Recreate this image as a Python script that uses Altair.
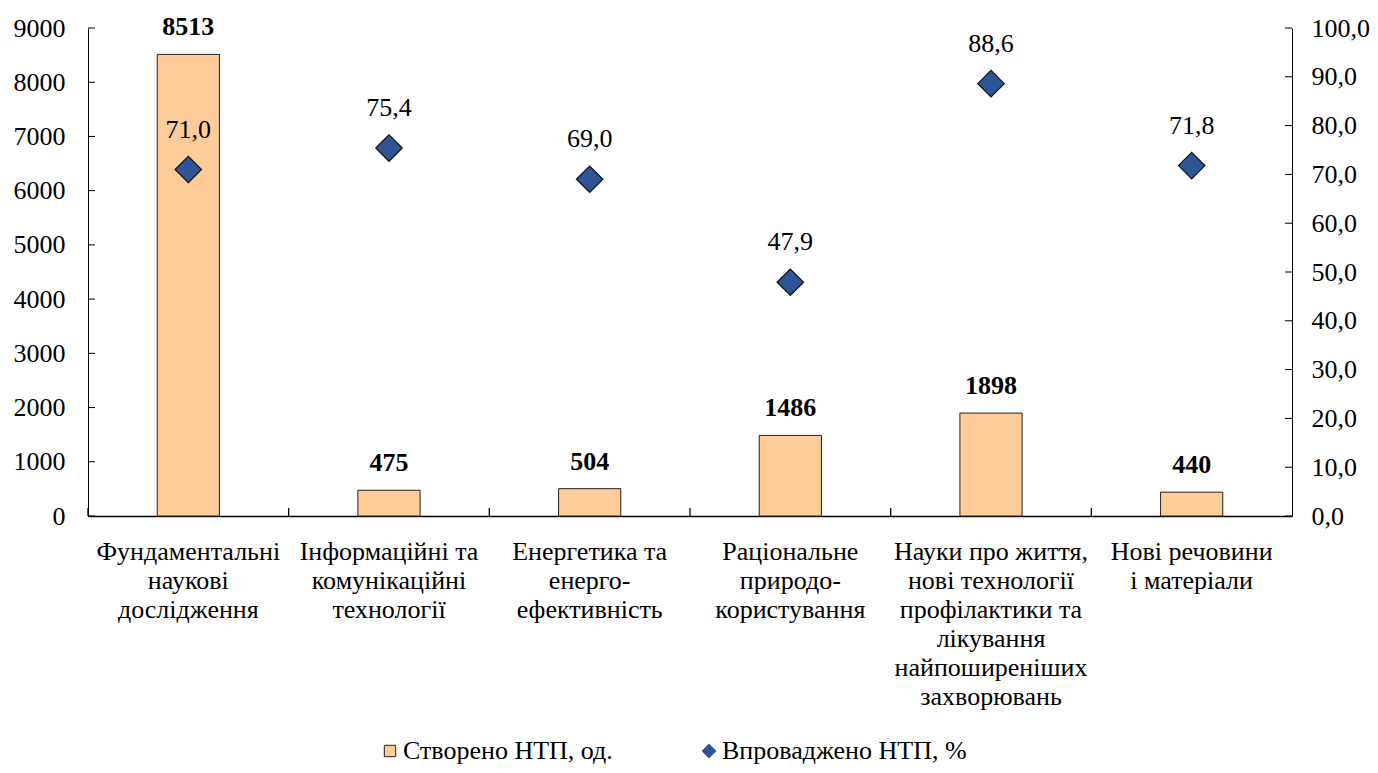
import altair as alt
import pandas as pd

categories = [
    "Фундаментальні\nнаукові\nдослідження",
    "Інформаційні та\nкомунікаційні\nтехнології",
    "Енергетика та\nенерго-\nефективність",
    "Раціональне\nприродо-\nкористування",
    "Науки про життя,\nнові технології\nпрофілактики та\nлікування\nнайпоширеніших\nзахворювань",
    "Нові речовини\nі матеріали",
]
created = [8513, 475, 504, 1486, 1898, 440]
implemented = [71.0, 75.4, 69.0, 47.9, 88.6, 71.8]
left_ticks = [0, 1000, 2000, 3000, 4000, 5000, 6000, 7000, 8000, 9000]
right_ticks = [0, 10, 20, 30, 40, 50, 60, 70, 80, 90, 100]

bar_name = "Створено НТП, од."
pt_name = "Впроваджено НТП, %"

df = pd.DataFrame({"cat": categories, "created": created, "impl": implemented})
df["bar_s"] = bar_name
df["pt_s"] = pt_name
df["impl_lbl"] = [f"{v:.1f}".replace(".", ",") for v in implemented]

W, H = 1204, 488
FONT = "Liberation Serif"
FS = 26

x_axis = alt.Axis(title=None, labelAngle=0, ticks=False, domainColor="black",
                  domainWidth=1.6, labelExpr="split(datum.label, '\\n')",
                  labelLineHeight=29, labelPadding=22, labelFontSize=FS,
                  labelFont=FONT, labelColor="black", labelLimit=400)
x_scale = alt.Scale(domain=categories, paddingInner=0, paddingOuter=0)


def xenc(**kw):
    return alt.X("cat:N", sort=categories, scale=x_scale, axis=x_axis, **kw)


yl_scale = alt.Scale(domain=[0, 9000], nice=False, zero=True)
yr_scale = alt.Scale(domain=[0, 100], nice=False, zero=True)

base = alt.Chart(df)

bars = base.mark_bar(width=alt.RelativeBandSize(0.31), stroke="#222222", strokeWidth=1).encode(
    x=xenc(),
    y=alt.Y("created:Q", scale=yl_scale,
            axis=alt.Axis(title=None, values=left_ticks, ticks=False, grid=False, format="d",
                          domainColor="black", labelPadding=23, labelFontSize=FS,
                          labelFont=FONT, labelColor="black", orient="left")),
    fill=alt.Fill("bar_s:N", scale=alt.Scale(domain=[bar_name], range=["#FFCC99"]),
                  legend=alt.Legend(title=None, orient="none", legendX=289, legendY=710,
                                    symbolType="square", symbolSize=130,
                                    symbolStrokeColor="#222222", symbolStrokeWidth=1,
                                    labelFontSize=FS, labelFont=FONT, labelColor="black",
                                    labelOffset=0, labelLimit=500)),
)

bar_text = base.mark_text(fontWeight="bold", fontSize=FS, font=FONT, color="black",
                          baseline="alphabetic", dy=-19).encode(
    x=xenc(),
    y=alt.Y("created:Q", scale=yl_scale, axis=None),
    text=alt.Text("created:Q", format="d"),
)

left_tick_df = pd.DataFrame({"v": left_ticks})
left_tick_layer = alt.Chart(left_tick_df).mark_rule(color="black", strokeWidth=1).encode(
    y=alt.Y("v:Q", scale=yl_scale, axis=None),
    x=alt.value(0), x2=alt.value(7),
)

cat_tick_layer = base.mark_rule(color="black", strokeWidth=1.3).encode(
    x=xenc(bandPosition=0),
    y=alt.value(H - 8), y2=alt.value(H),
)

points = base.mark_point(shape="diamond", filled=True, size=700, fill="#2F5597",
                         stroke="#111111", strokeWidth=1.2, opacity=1).encode(
    x=xenc(),
    y=alt.Y("impl:Q", scale=yr_scale,
            axis=alt.Axis(title=None, values=right_ticks, ticks=False, grid=False,
                          domainColor="black", labelPadding=19, labelFontSize=FS,
                          labelFont=FONT, labelColor="black", orient="right",
                          labelExpr="replace(format(datum.value, '.1f'), '.', ',')")),
    shape=alt.Shape("pt_s:N", scale=alt.Scale(domain=[pt_name], range=["diamond"]),
                    legend=alt.Legend(title=None, orient="none", legendX=608, legendY=710,
                                      symbolSize=220, symbolFillColor="#2F5597",
                                      symbolStrokeColor="#111111", symbolStrokeWidth=1,
                                      labelFontSize=FS, labelFont=FONT, labelColor="black",
                                      labelOffset=0, labelLimit=500)),
)

pt_text = base.mark_text(fontSize=FS, font=FONT, color="black",
                         baseline="alphabetic", dy=-32).encode(
    x=xenc(),
    y=alt.Y("impl:Q", scale=yr_scale, axis=None),
    text="impl_lbl:N",
)

right_tick_df = pd.DataFrame({"v": right_ticks})
right_tick_layer = alt.Chart(right_tick_df).mark_rule(color="black", strokeWidth=1).encode(
    y=alt.Y("v:Q", scale=yr_scale, axis=None),
    x=alt.value(W - 7), x2=alt.value(W),
)

chart = alt.layer(bars, bar_text, left_tick_layer, cat_tick_layer,
                  points, pt_text, right_tick_layer).resolve_scale(
    y="independent", fill="independent", shape="independent").properties(
    width=W, height=H,
    autosize=alt.AutoSizeParams(type="none"),
    padding={"left": 80, "top": 20, "right": 78, "bottom": 249},
).configure(background="white").configure_view(stroke=None)

chart.save("out.html", embed_options={"renderer": "svg", "actions": False})
